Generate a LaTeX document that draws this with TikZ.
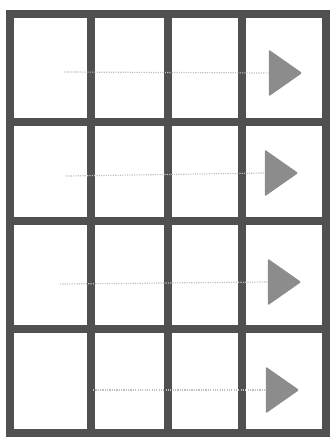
\documentclass[tikz,border=0pt]{standalone}
\usepackage{xcolor}
\definecolor{gridgray}{RGB}{80,80,80}
\definecolor{tipgray}{RGB}{140,140,140}
\definecolor{trailgray}{RGB}{190,190,190}
\usetikzlibrary{shapes.geometric,positioning}

\begin{document}
\begin{tikzpicture}[x=0.03cm, y=-0.03cm,
  gridline/.style={draw=gridgray, line width=6pt, line cap=rect},
  tipmark/.style={isosceles triangle, isosceles triangle apex angle=70,
                  fill=tipgray, rounded corners=1pt, inner sep=0pt,
                  minimum height=1.0cm},
  trail/.style={draw=trailgray, densely dotted, line width=1pt}
]
  \useasboundingbox (0,0) rectangle (329,439);
  % grid
  \foreach \gx in {10,91,168,242,326}
    \draw[gridline] (\gx,14) -- (\gx,433);
  \foreach \gy in {14,122,221,329,433}
    \draw[gridline] (10,\gy) -- (326,\gy);
  % arrows in the last column
  \node[tipmark] (tip1) at (281,73) {};
  \node[tipmark] (tip2) at (277,173) {};
  \node[tipmark] (tip3) at (280,282) {};
  \node[tipmark] (tip4) at (278,390) {};
  \coordinate (start1) at (64,72);
  \coordinate (start2) at (66,176);
  \coordinate (start3) at (60,284);
  \coordinate (start4) at (93,390);
  \draw[trail] (start1) -- (tip1.west);
  \draw[trail] (start2) -- (tip2.west);
  \draw[trail] (start3) -- (tip3.west);
  \draw[trail] (start4) -- (tip4.west);
\end{tikzpicture}
\end{document}
